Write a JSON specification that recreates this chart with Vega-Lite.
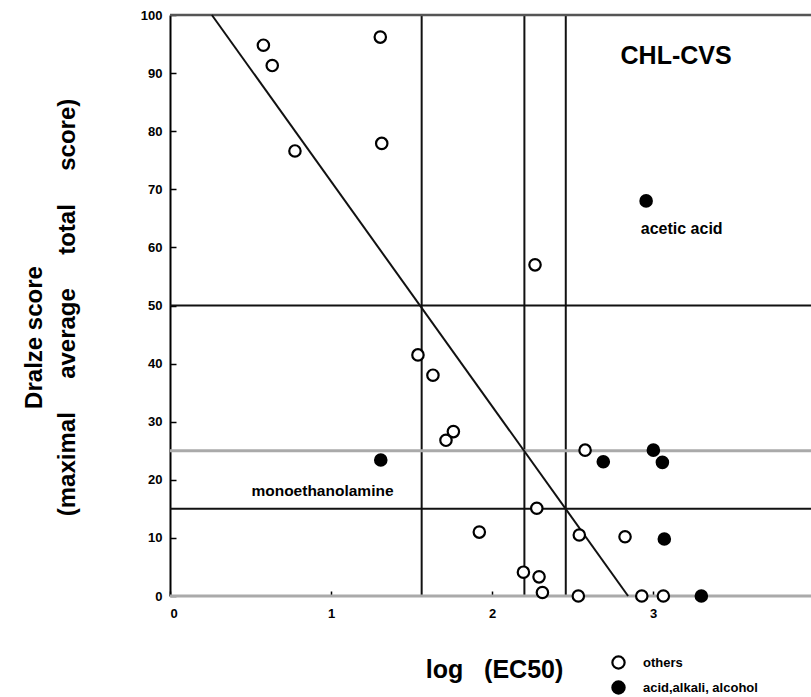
{
  "$schema": "https://vega.github.io/schema/vega-lite/v6.json",
  "autosize": "none",
  "width": 641,
  "height": 581,
  "padding": {"left": 170, "top": 15, "right": 0, "bottom": 101},
  "background": "white",
  "config": {
    "view": {"stroke": null},
    "font": "Liberation Sans"
  },
  "datasets": {
    "pts": [
      {"logEC50": 0.58, "draize": 94.8, "group": "others"},
      {"logEC50": 0.635, "draize": 91.3, "group": "others"},
      {"logEC50": 0.776, "draize": 76.6, "group": "others"},
      {"logEC50": 1.306, "draize": 96.2, "group": "others"},
      {"logEC50": 1.315, "draize": 77.9, "group": "others"},
      {"logEC50": 2.267, "draize": 57.0, "group": "others"},
      {"logEC50": 1.54, "draize": 41.5, "group": "others"},
      {"logEC50": 1.633, "draize": 38.0, "group": "others"},
      {"logEC50": 1.714, "draize": 26.8, "group": "others"},
      {"logEC50": 1.76, "draize": 28.3, "group": "others"},
      {"logEC50": 2.578, "draize": 25.1, "group": "others"},
      {"logEC50": 2.278, "draize": 15.1, "group": "others"},
      {"logEC50": 1.921, "draize": 11.0, "group": "others"},
      {"logEC50": 2.542, "draize": 10.5, "group": "others"},
      {"logEC50": 2.826, "draize": 10.2, "group": "others"},
      {"logEC50": 2.195, "draize": 4.1, "group": "others"},
      {"logEC50": 2.292, "draize": 3.3, "group": "others"},
      {"logEC50": 2.313, "draize": 0.6, "group": "others"},
      {"logEC50": 2.536, "draize": 0.0, "group": "others"},
      {"logEC50": 2.93, "draize": 0.0, "group": "others"},
      {"logEC50": 3.064, "draize": 0.0, "group": "others"},
      {"logEC50": 2.957, "draize": 68.0, "group": "acid,alkali, alcohol"},
      {"logEC50": 1.309, "draize": 23.4, "group": "acid,alkali, alcohol"},
      {"logEC50": 2.691, "draize": 23.1, "group": "acid,alkali, alcohol"},
      {"logEC50": 3.002, "draize": 25.1, "group": "acid,alkali, alcohol"},
      {"logEC50": 3.058, "draize": 23.0, "group": "acid,alkali, alcohol"},
      {"logEC50": 3.07, "draize": 9.8, "group": "acid,alkali, alcohol"},
      {"logEC50": 3.30, "draize": 0.0, "group": "acid,alkali, alcohol"}
    ],
    "hblack": [{"y": 50}, {"y": 15}],
    "hgray": [{"y": 25}, {"y": 0}],
    "htop": [{"y": 100}],
    "vlines": [{"x": 1.563}, {"x": 2.201}, {"x": 2.458}],
    "diag": [{"x": 0.26, "y": 100}, {"x": 2.845, "y": 0}],
    "labels": [
      {"x": 0.947, "y": 18.1, "text": "monoethanolamine", "size": 15.5},
      {"x": 3.178, "y": 63.2, "text": "acetic acid", "size": 16}
    ],
    "title": [{"x": 3.143, "y": 93.0, "text": "CHL-CVS"}]
  },
  "layer": [
    {
      "data": {"name": "vlines"},
      "mark": {"type": "rule", "color": "#111111", "strokeWidth": 2},
      "encoding": {
        "x": {
          "field": "x", "type": "quantitative",
          "scale": {"domain": [0, 3.981], "nice": false},
          "axis": {
            "values": [0, 1, 2, 3],
            "format": "d",
            "domain": false,
            "grid": false,
            "tickSize": -5,
            "tickColor": "black",
            "tickWidth": 1.5,
            "labelFont": "Liberation Sans",
            "labelFontWeight": "bold",
            "labelFontSize": 13,
            "labelColor": "black",
            "labelPadding": 16,
            "title": "log\u00a0\u00a0\u00a0(EC50)",
            "titleFont": "Liberation Sans",
            "titleFontWeight": "bold",
            "titleFontSize": 25,
            "titleColor": "black",
            "titleX": 324,
            "titleY": 81,
            "titleBaseline": "alphabetic",
            "titleAnchor": "middle"
          }
        }
      }
    },
    {
      "data": {"name": "htop"},
      "mark": {"type": "rule", "color": "#555555", "strokeWidth": 2.5},
      "encoding": {
        "y": {
          "field": "y", "type": "quantitative",
          "scale": {"domain": [0, 100], "nice": false},
          "axis": {
            "values": [0, 10, 20, 30, 40, 50, 60, 70, 80, 90, 100],
            "domain": true,
            "domainColor": "black",
            "domainWidth": 2,
            "grid": false,
            "tickSize": -6,
            "tickColor": "black",
            "tickWidth": 1.5,
            "labelFont": "Liberation Sans",
            "labelFontWeight": "bold",
            "labelFontSize": 13,
            "labelColor": "black",
            "labelPadding": 14,
            "title": ["Dralze score\u00a0\u00a0\u00a0\u00a0\u00a0\u00a0\u00a0\u00a0\u00a0\u200b", "(maximal\u00a0\u00a0\u00a0\u00a0\u00a0average\u00a0\u00a0\u00a0\u00a0\u00a0total\u00a0\u00a0\u00a0\u00a0\u00a0score)"],
            "titleFont": "Liberation Sans",
            "titleFontWeight": "bold",
            "titleFontSize": 24,
            "titleColor": "black",
            "titleLineHeight": 33,
            "titleX": -136,
            "titleY": 292,
            "titleAngle": -90,
            "titleBaseline": "middle",
            "titleAnchor": "middle"
          }
        }
      }
    },
    {
      "data": {"name": "hgray"},
      "mark": {"type": "rule", "color": "#aaaaaa", "strokeWidth": 3},
      "encoding": {
        "y": {"field": "y", "type": "quantitative"}
      }
    },
    {
      "data": {"name": "hblack"},
      "mark": {"type": "rule", "color": "#111111", "strokeWidth": 2},
      "encoding": {
        "y": {"field": "y", "type": "quantitative"}
      }
    },
    {
      "data": {"name": "diag"},
      "mark": {"type": "line", "color": "#111111", "strokeWidth": 2},
      "encoding": {
        "x": {"field": "x", "type": "quantitative"},
        "y": {"field": "y", "type": "quantitative"}
      }
    },
    {
      "data": {"name": "pts"},
      "mark": {"type": "point", "filled": false, "size": 130, "stroke": "black", "strokeWidth": 2.2, "opacity": 1},
      "encoding": {
        "x": {"field": "logEC50", "type": "quantitative"},
        "y": {"field": "draize", "type": "quantitative"},
        "fill": {
          "field": "group", "type": "nominal",
          "scale": {"domain": ["others", "acid,alkali, alcohol"], "range": ["white", "black"]},
          "legend": {
            "title": null,
            "orient": "none",
            "legendX": 441,
            "legendY": 640,
            "symbolType": "circle",
            "symbolSize": 150,
            "symbolStrokeColor": "black",
            "symbolStrokeWidth": 2.2,
            "symbolOpacity": 1,
            "labelFont": "Liberation Sans",
            "labelFontSize": 13,
            "labelFontWeight": "bold",
            "labelColor": "black",
            "labelOffset": 17,
            "rowPadding": 2
          }
        }
      }
    },
    {
      "data": {"name": "labels"},
      "mark": {"type": "text", "font": "Liberation Sans", "color": "black", "align": "center", "baseline": "middle", "fontWeight": "bold"},
      "encoding": {
        "x": {"field": "x", "type": "quantitative"},
        "y": {"field": "y", "type": "quantitative"},
        "text": {"field": "text"},
        "size": {"field": "size", "type": "quantitative", "scale": null}
      }
    },
    {
      "data": {"name": "title"},
      "mark": {"type": "text", "font": "Liberation Sans", "color": "black", "align": "center", "baseline": "middle", "fontWeight": "bold", "fontSize": 25},
      "encoding": {
        "x": {"field": "x", "type": "quantitative"},
        "y": {"field": "y", "type": "quantitative"},
        "text": {"field": "text"}
      }
    }
  ]
}
